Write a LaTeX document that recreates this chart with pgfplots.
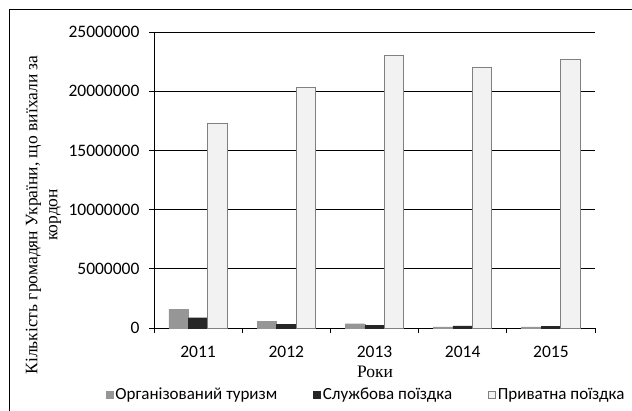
\documentclass[border=0pt]{standalone}
\usepackage{fontspec}
\setmainfont{Liberation Serif}
\newfontfamily\carlito{Carlito}
\usepackage{pgfplots}
\pgfplotsset{compat=1.18}
\definecolor{cgray}{RGB}{150,150,150}
\definecolor{cdark}{RGB}{38,38,38}
\definecolor{clight}{RGB}{242,242,242}
\definecolor{cedge}{RGB}{128,128,128}
\begin{document}
\begin{tikzpicture}[x=1pt,y=1pt]
\useasboundingbox (0,0) rectangle (632,410);
\draw[line width=1pt] (9,-10) -- (9,400) -- (650,400);
\begin{axis}[
  at={(154pt,82pt)}, anchor=south west,
  scale only axis, width=441pt, height=296pt,
  xmin=-0.5, xmax=4.5, ymin=0, ymax=25000000,
  ybar=0pt, bar width=19.5pt,
  axis lines=left, axis line style={-, black, line width=0.8pt},
  ytick={0,5000000,10000000,15000000,20000000,25000000},
  yticklabels={0,5000000,10000000,15000000,20000000,25000000},
  ymajorgrids, grid style={black, line width=0.8pt},
  xtick={0,1,2,3,4}, xticklabels={2011,2012,2013,2014,2015},
  major x tick style={draw=none},
  minor xtick={-0.5,0.5,1.5,2.5,3.5,4.5},
  tick align=outside, major tick length=5pt, minor tick length=5pt,
  tick style={black, line width=0.8pt},
  scaled y ticks=false,
  /pgf/number format/assume math mode=true,
  ticklabel style={font=\carlito\fontsize{17.5}{19}\selectfont},
  yticklabel style={xshift=-6pt},
  xticklabel style={yshift=-10pt},
  ylabel={Кількість громадян України, що виїхали за\\кордон},
  ylabel style={at={(axis description cs:-0.2506,0.382)}, anchor=center, align=center, font=\fontsize{17.5}{20}\selectfont},
  legend columns=3,
  legend style={at={(axis description cs:0.481,-0.225)}, anchor=center, draw=none, fill=none,
    font=\carlito\fontsize{17}{18}\selectfont,
    /tikz/every even column/.append style={column sep=34pt}},
  legend image code/.code={\draw[#1, line width=0.6pt] (0pt,-3.5pt) rectangle (7pt,3.5pt);},
]
\addplot[fill=cgray, draw=cgray] coordinates {(0,1580000) (1,570000) (2,360000) (3,100000) (4,100000)};
\addplot[fill=cdark, draw=cdark] coordinates {(0,870000) (1,320000) (2,200000) (3,190000) (4,150000)};
\addplot[fill=clight, draw=cedge, line width=1pt] coordinates {(0,17230000) (1,20350000) (2,23000000) (3,21980000) (4,22660000)};
\legend{Організований туризм, Службова поїздка, Приватна поїздка}
\end{axis}
\node[font=\fontsize{17.5}{20}\selectfont, anchor=center] at (375,38) {Роки};
\end{tikzpicture}
\end{document}
